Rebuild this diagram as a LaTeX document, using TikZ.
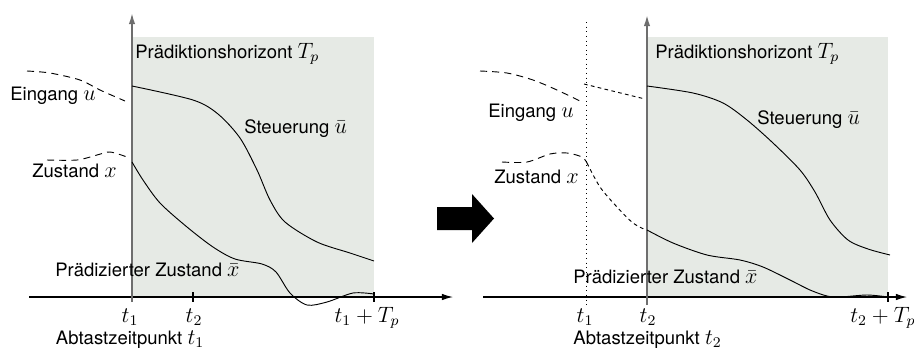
\documentclass[tikz,border=0pt]{standalone}
\usepackage{fontspec}
\newfontfamily\helv{TeX Gyre Heros}
\usepackage{tikz}
\usetikzlibrary{arrows.meta}
\definecolor{HorizonFill}{RGB}{230, 234, 229}
\definecolor{AxisGray}{RGB}{110, 110, 110}
\newcommand{\mlbl}[1]{{\fontsize{12}{14}\selectfont$#1$}}
\tikzset{
  lbl/.style={font=\helv, inner sep=0pt},
  tlbl/.style={inner sep=0pt, anchor=base},
  axis/.style={-{Latex[length=6pt, width=3.5pt]}, line width=0.6pt},
  vaxis/.style={-{Latex[length=6pt, width=3.5pt]}, line width=0.9pt, draw=AxisGray},
  past/.style={line width=0.5pt, dash pattern=on 3.8pt off 2.8pt},
  oldpred/.style={line width=0.5pt, dash pattern=on 2pt off 1.8pt},
  pred/.style={line width=0.5pt},
  horizon/.style={fill=HorizonFill, draw=none},
  tick/.style={line width=0.6pt},
}
\begin{document}
\begin{tikzpicture}[x=0.019cm, y=-0.019cm]
  \useasboundingbox (0,0) rectangle (914,347);

  % ---- left panel: sampling instant t1
  \coordinate (oA) at (132,297);
  \fill[horizon] (132,37) rectangle (374,297);
  \draw[axis] (29,297) -- (453,297);
  \draw[vaxis] (132,302) -- (132,13);
  \draw[tick] (193,292) -- (193,302);
  \draw[tick] (374,292) -- (374,302);

  \draw[past] plot[smooth] coordinates {(27,71) (50,73) (80,80) (100,90) (125,101)};
  \draw[past] plot[smooth] coordinates {(47,160) (77,160) (97,155) (110,152) (127,157)};
  \draw[pred] plot[smooth] coordinates {(132,86) (193,100) (218,114) (240,138)
      (257,170) (270,200) (285,222) (317,242) (350,253) (374,261)};
  \draw[pred] plot[smooth] coordinates {(132,162) (143,180) (160,203) (187,227) (213,247)
      (235,259) (262,264) (276,272) (290,293) (307,305) (327,302) (353,293) (374,294)};

  \node[lbl, anchor=base west] (horA) at (135,58) {Prädiktionshorizont \mlbl{T_p}};
  \node[lbl, anchor=base west] (inA) at (10,100) {Eingang \mlbl{u}};
  \node[lbl, anchor=base west] (ctrlA) at (244,133) {Steuerung \mlbl{\bar{u}}};
  \node[lbl, anchor=base west] (stA) at (32,177) {Zustand \mlbl{x}};
  \node[lbl, anchor=base west] (predA) at (55,276) {Prädizierter Zustand \mlbl{\bar{x}}};
  \node[tlbl] (t1A) at (130,322) {\mlbl{t_1}};
  \node[tlbl] (t2A) at (194,322) {\mlbl{t_2}};
  \node[tlbl] (tpA) at (367,322) {\mlbl{t_1 + T_p}};
  \node[lbl, anchor=base] (abtA) at (130,344) {Abtastzeitpunkt \mlbl{t_1}};

  % ---- step arrow
  \fill (437,207) -- (472,207) -- (472,194) -- (494,218.5) -- (472,243)
        -- (472,230) -- (437,230) -- cycle;

  % ---- right panel: sampling instant t2
  \coordinate (oB) at (647,297);
  \fill[horizon] (647,37) rectangle (888,297);
  \draw[axis] (483,297) -- (907,297);
  \draw[line width=0.5pt, dotted] (586,22) -- (586,305);
  \draw[vaxis] (647,305) -- (647,15);
  \draw[tick] (888,292) -- (888,302);

  \draw[past] plot[smooth] coordinates {(480,71) (507,73) (533,80) (557,90) (580,101)};
  \draw[oldpred] (584,84) -- (645,99);
  \draw[past] plot[smooth] coordinates {(502,162) (527,162) (550,154) (567,153) (582,157) (587,163)};
  \draw[oldpred] plot[smooth] coordinates {(587,163) (600,187) (617,207) (633,223) (646,230)};
  \draw[pred] plot[smooth] coordinates {(647,86) (693,93) (723,103) (747,120) (773,143)
      (800,170) (815,192) (830,220) (848,240) (868,249) (890,255)};
  \draw[pred] plot[smooth] coordinates {(647,230) (673,243) (707,255) (740,260) (763,267)
      (790,280) (810,290) (827,296) (840,297) (867,295) (888,297)};

  \node[lbl, anchor=base west] (horB) at (655,58) {Prädiktionshorizont \mlbl{T_p}};
  \node[lbl, anchor=base west] (inB) at (488,117) {Eingang \mlbl{u}};
  \node[lbl, anchor=base west] (ctrlB) at (757,124) {Steuerung \mlbl{\bar{u}}};
  \node[lbl, anchor=base west] (stB) at (494,183) {Zustand \mlbl{x}};
  \node[lbl, anchor=base west] (predB) at (573,283) {Prädizierter Zustand \mlbl{\bar{x}}};
  \node[tlbl] (t1B) at (585,322) {\mlbl{t_1}};
  \node[tlbl] (t2B) at (648,322) {\mlbl{t_2}};
  \node[tlbl, anchor=base west] (tpB) at (850,322) {\mlbl{t_2 + T_p}};
  \node[lbl, anchor=base west] (abtB) at (573,344) {Abtastzeitpunkt \mlbl{t_2}};
\end{tikzpicture}
\end{document}
